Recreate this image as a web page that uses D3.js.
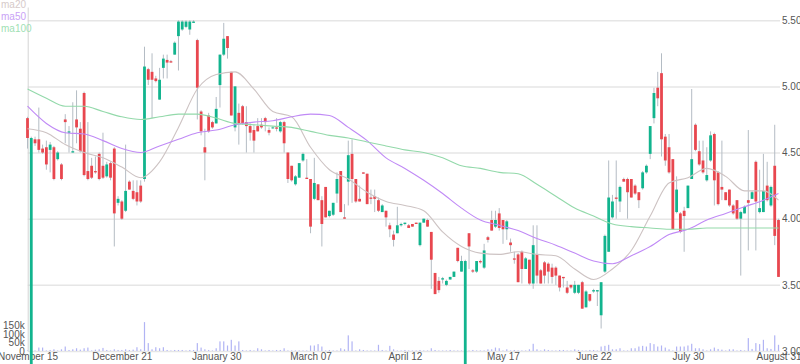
<!DOCTYPE html>
<html>
<head>
<meta charset="utf-8">
<script src="https://cdn.jsdelivr.net/npm/d3@7"></script>
<style>
  body { margin: 0; background: #fff; }
  svg { display: block; font-family: "Liberation Sans", Arial, sans-serif; }
</style>
</head>
<body>
<svg id="chart" width="800" height="364"></svg>
<script>
// daily OHLC, one entry per trading day
const open = [
  4.76, 2.60, 4.60, 4.60, 4.53, 4.54, 4.52, 4.54, 4.45, 4.41,
  4.75, 4.65, 4.50, 4.75, 4.68, 4.95, 4.36, 4.40, 4.36, 4.49,
  4.40, 4.32, 4.42, 4.53, 4.12, 4.13, 4.06, 4.28, 4.21, 4.20,
  4.25, 4.30, 5.13, 5.11, 5.06, 4.90, 5.14, 5.20, 5.19, 5.24,
  5.38, 5.43, 5.45, 5.43, 5.48, 5.35, 4.81, 4.54, 4.78, 4.73,
  4.72, 5.01, 5.24, 5.38, 5.11, 4.69, 4.80, 4.85, 4.73, 4.70,
  4.67, 4.70, 4.71, 4.76, 4.67, 4.69, 4.69, 4.66, 4.73, 4.50,
  4.40, 4.26, 4.31, 4.44, 4.31, 4.30, 4.15, 4.26, 4.14, 4.24,
  4.02, 4.03, 4.19, 4.36, 4.01, 4.28, 4.49, 4.30, 4.15, 4.35,
  4.34, 4.16, 4.17, 4.14, 4.05, 4.06, 3.95, 3.88, 3.89, 3.95,
  3.96, 3.95, 3.96, 3.97, 3.80, 3.97, 3.99, 3.90, 3.59, 3.53,
  3.54, 3.50, 3.54, 3.56, 3.78, 3.60, 2.60, 3.89, 3.61, 3.60,
  3.68, 3.63, 3.86, 3.99, 3.94, 4.04, 3.99, 3.92, 3.82, 3.70,
  3.73, 3.75, 3.62, 3.69, 3.51, 3.73, 3.61, 3.67, 3.66, 3.63,
  3.63, 3.57, 3.56, 3.48, 3.50, 3.44, 3.44, 3.52, 3.33, 3.43,
  3.45, 3.45, 3.27, 3.60, 3.75, 4.01, 4.16, 4.13, 4.30, 4.30,
  4.30, 4.25, 4.20, 4.23, 4.35, 4.49, 4.76, 4.99, 5.10, 4.62,
  4.54, 4.45, 4.05, 4.04, 4.06, 4.08, 4.30, 4.71, 4.51, 4.44,
  4.29, 4.44, 4.64, 4.35, 4.24, 4.20, 4.22, 4.10, 4.14, 4.00,
  4.04, 4.14, 4.15, 4.43, 4.05, 4.05, 4.25, 4.10, 4.40, 3.99
];
const high = [
  4.77, 4.62, 4.62, 4.84, 4.56, 4.59, 4.58, 4.55, 4.51, 4.42,
  4.79, 4.70, 4.88, 4.97, 4.73, 4.96, 4.73, 4.46, 4.47, 4.50,
  4.65, 4.43, 4.43, 4.54, 4.17, 4.14, 4.56, 4.29, 4.29, 4.29,
  4.29, 5.30, 5.14, 5.25, 5.08, 5.14, 5.24, 5.24, 5.20, 5.34,
  5.50, 5.50, 5.50, 5.50, 5.50, 5.36, 4.82, 4.68, 4.80, 4.74,
  4.92, 5.24, 5.48, 5.38, 5.11, 5.00, 4.87, 4.86, 4.85, 4.72,
  4.71, 4.76, 4.76, 4.77, 4.69, 4.70, 4.76, 4.74, 4.74, 4.50,
  4.40, 4.33, 4.42, 4.50, 4.45, 4.30, 4.46, 4.26, 4.17, 4.24,
  4.06, 4.12, 4.35, 4.36, 4.11, 4.59, 4.60, 4.30, 4.25, 4.35,
  4.34, 4.22, 4.22, 4.16, 4.11, 4.06, 3.97, 3.91, 4.09, 3.97,
  3.97, 3.96, 3.96, 3.97, 3.97, 4.00, 4.00, 3.90, 3.59, 3.56,
  3.56, 3.54, 3.56, 3.60, 3.78, 3.72, 3.69, 3.89, 3.62, 3.68,
  3.69, 3.81, 3.87, 4.06, 4.06, 4.08, 3.99, 3.99, 3.85, 3.75,
  3.74, 3.76, 3.71, 3.69, 3.95, 3.95, 3.62, 3.68, 3.67, 3.66,
  3.64, 3.57, 3.56, 3.53, 3.50, 3.53, 3.50, 3.53, 3.46, 3.43,
  3.47, 3.46, 3.52, 3.88, 4.44, 4.18, 4.44, 4.25, 4.31, 4.31,
  4.30, 4.26, 4.20, 4.36, 4.41, 4.70, 4.99, 5.11, 5.25, 4.64,
  4.64, 4.45, 4.32, 4.05, 4.09, 4.25, 4.98, 4.72, 4.59, 4.59,
  4.54, 4.66, 4.65, 4.36, 4.59, 4.20, 4.22, 4.11, 4.14, 4.06,
  4.10, 4.67, 4.21, 4.44, 4.37, 4.49, 4.43, 4.25, 4.71, 4.00
];
const low = [
  4.53, 2.60, 4.55, 4.50, 4.49, 4.37, 4.35, 4.29, 4.44, 4.29,
  4.57, 4.50, 4.50, 4.57, 4.50, 4.32, 4.29, 4.30, 4.34, 4.29,
  4.30, 4.31, 4.29, 3.79, 4.10, 3.99, 4.05, 4.22, 4.14, 4.10,
  4.12, 4.28, 5.01, 4.76, 5.03, 4.90, 5.06, 5.06, 5.18, 5.24,
  5.12, 5.42, 5.44, 5.39, 5.48, 4.75, 4.63, 4.29, 4.65, 4.68,
  4.72, 4.84, 5.23, 5.21, 4.78, 4.66, 4.56, 4.71, 4.50, 4.59,
  4.50, 4.66, 4.68, 4.66, 4.63, 4.68, 4.66, 4.65, 4.50, 4.27,
  4.28, 4.25, 4.31, 4.43, 4.30, 3.89, 4.14, 4.14, 3.79, 4.01,
  4.01, 4.02, 4.12, 4.05, 4.00, 4.10, 4.12, 4.12, 4.13, 4.34,
  4.11, 4.11, 4.05, 4.05, 4.05, 3.94, 3.86, 3.79, 3.89, 3.94,
  3.95, 3.93, 3.94, 3.96, 3.79, 3.97, 3.94, 3.47, 3.43, 3.44,
  3.51, 3.49, 3.54, 3.56, 3.67, 3.60, 2.60, 3.62, 3.59, 3.59,
  3.66, 3.62, 3.82, 3.91, 3.93, 3.91, 3.81, 3.84, 3.75, 3.66,
  3.52, 3.51, 3.62, 3.50, 3.47, 3.51, 3.51, 3.51, 3.51, 3.51,
  3.50, 3.45, 3.48, 3.43, 3.47, 3.43, 3.43, 3.32, 3.33, 3.37,
  3.44, 3.34, 3.17, 3.59, 3.75, 4.00, 4.00, 4.05, 4.28, 4.00,
  4.16, 4.18, 4.08, 4.22, 4.34, 4.45, 4.72, 4.85, 4.47, 4.40,
  4.34, 3.92, 4.04, 3.89, 3.75, 4.08, 4.30, 4.51, 4.40, 4.34,
  4.28, 4.43, 4.10, 4.10, 4.14, 4.14, 4.09, 4.03, 3.99, 3.57,
  4.04, 3.76, 4.15, 3.76, 4.04, 4.05, 4.13, 4.09, 3.80, 3.56
];
const close = [
  4.61, 4.61, 4.57, 4.52, 4.50, 4.41, 4.56, 4.30, 4.50, 4.30,
  4.73, 4.66, 4.51, 4.69, 4.51, 4.33, 4.30, 4.31, 4.35, 4.30,
  4.31, 4.41, 4.31, 4.04, 4.15, 4.00, 4.21, 4.22, 4.15, 4.13,
  4.13, 5.15, 5.05, 5.05, 5.04, 5.05, 5.21, 5.18, 5.18, 5.33,
  5.49, 5.49, 5.49, 5.49, 5.49, 4.99, 4.66, 4.50, 4.66, 4.69,
  4.83, 5.24, 5.36, 5.29, 4.78, 5.00, 4.72, 4.72, 4.70, 4.65,
  4.59, 4.66, 4.69, 4.73, 4.65, 4.69, 4.68, 4.73, 4.57, 4.30,
  4.29, 4.32, 4.42, 4.49, 4.30, 3.94, 4.27, 4.14, 3.96, 4.01,
  4.06, 4.12, 4.30, 4.05, 4.00, 4.48, 4.30, 4.13, 4.13, 4.34,
  4.11, 4.15, 4.15, 4.06, 4.10, 4.01, 3.92, 3.84, 3.95, 3.96,
  3.97, 3.93, 3.94, 3.96, 3.97, 4.00, 3.94, 3.69, 3.43, 3.46,
  3.55, 3.53, 3.56, 3.60, 3.68, 3.68, 3.68, 3.79, 3.60, 3.68,
  3.67, 3.76, 3.84, 3.91, 3.99, 3.93, 3.92, 3.98, 3.80, 3.69,
  3.52, 3.62, 3.70, 3.51, 3.80, 3.57, 3.51, 3.57, 3.60, 3.56,
  3.57, 3.48, 3.55, 3.44, 3.48, 3.50, 3.50, 3.32, 3.45, 3.38,
  3.46, 3.46, 3.52, 3.87, 4.16, 4.13, 4.15, 4.24, 4.28, 4.20,
  4.16, 4.19, 4.14, 4.35, 4.40, 4.70, 4.95, 4.91, 4.60, 4.44,
  4.35, 3.92, 4.22, 3.90, 4.02, 4.25, 4.45, 4.52, 4.41, 4.35,
  4.33, 4.63, 4.29, 4.11, 4.22, 4.14, 4.10, 4.04, 4.00, 4.05,
  4.09, 4.12, 4.20, 4.13, 4.08, 4.21, 4.14, 4.24, 3.87, 3.56
];
// volume in thousands
const volume = [
  3, 3, 3, 20, 20, 3, 6, 10, 3, 10,
  26, 6, 10, 16, 8, 16, 20, 3, 8, 10,
  18, 6, 3, 10, 6, 6, 10, 6, 8, 22,
  10, 168, 46, 10, 22, 16, 22, 6, 3, 6,
  6, 6, 3, 6, 6, 46, 20, 10, 6, 3,
  16, 56, 56, 32, 65, 32, 56, 6, 3, 6,
  3, 16, 10, 3, 6, 3, 6, 6, 16, 3,
  3, 3, 3, 3, 3, 32, 32, 40, 26, 3,
  6, 3, 3, 16, 10, 91, 56, 3, 10, 6,
  3, 3, 3, 36, 6, 3, 30, 10, 3, 3,
  6, 3, 3, 3, 6, 3, 3, 16, 6, 3,
  3, 3, 6, 3, 3, 3, 6, 3, 6, 3,
  3, 3, 10, 10, 20, 16, 3, 10, 3, 6,
  3, 3, 3, 10, 42, 10, 3, 10, 6, 3,
  3, 6, 6, 3, 3, 10, 6, 3, 3, 6,
  6, 3, 26, 30, 36, 10, 10, 16, 3, 3,
  16, 16, 26, 30, 26, 46, 40, 26, 32, 20,
  10, 3, 26, 26, 26, 32, 42, 16, 16, 10,
  3, 10, 20, 12, 8, 3, 10, 10, 3, 6,
  3, 75, 12, 46, 40, 65, 16, 12, 91, 36
];

// moving averages, read at every 5th day
const maIdx = [0, 5, 10, 15, 20, 25, 30, 35, 40, 45, 50, 55, 60, 65, 70, 75, 80, 85, 90, 95,
  100, 105, 110, 115, 120, 125, 130, 135, 140, 145, 150, 155, 160, 165, 170, 175, 180, 185, 190, 195, 199];
const ma20 = [4.68, 4.65, 4.56, 4.50, 4.46, 4.39, 4.31, 4.43, 4.69, 4.98, 5.09, 5.11, 4.98, 4.81, 4.77, 4.54, 4.37, 4.30, 4.20, 4.13,
  4.10, 4.06, 3.90, 3.79, 3.74, 3.73, 3.75, 3.73, 3.72, 3.62, 3.54, 3.62, 3.76, 4.02, 4.27, 4.31, 4.38, 4.32, 4.21, 4.21, 4.14];
const ma50 = [4.85, 4.72, 4.65, 4.64, 4.59, 4.53, 4.50, 4.55, 4.60, 4.65, 4.67, 4.71, 4.73, 4.74, 4.77, 4.79, 4.78, 4.69, 4.59, 4.46,
  4.38, 4.29, 4.19, 4.08, 3.99, 3.95, 3.91, 3.85, 3.80, 3.74, 3.68, 3.66, 3.72, 3.79, 3.88, 3.92, 3.99, 4.04, 4.09, 4.14, 4.19];
const ma100 = [4.98, 4.91, 4.85, 4.85, 4.81, 4.77, 4.75, 4.77, 4.79, 4.79, 4.76, 4.72, 4.71, 4.70, 4.69, 4.66, 4.63, 4.61, 4.58, 4.55,
  4.52, 4.50, 4.46, 4.40, 4.38, 4.35, 4.34, 4.26, 4.17, 4.08, 4.02, 3.96, 3.94, 3.93, 3.92, 3.92, 3.93, 3.93, 3.93, 3.93, 3.93];

const tickIdx = [0, 25, 50, 75, 100, 126, 150, 175, 199];
const tickLabels = ["November 15", "December 21", "January 30", "March 07", "April 12", "May 17", "June 22", "July 30", "August 31"];
const priceTicks = [3.0, 3.5, 4.0, 4.5, 5.0, 5.5];
const volumeTicks = [0, 50, 100, 150];

const maSeries = [
  { name: "ma20", values: ma20, line: "#cdc3c3", label: "#d6caca" },
  { name: "ma50", values: ma50, line: "#c08af6", label: "#c9a2f6" },
  { name: "ma100", values: ma100, line: "#93d9aa", label: "#a0dfb4" }
];

const UP = "#12b48e", DOWN = "#e8474f", WICK = "#b4bcc4";

const plotLeft = 27.7, plotRight = 780, plotTop = 7, plotBottom = 351;

const svg = d3.select("#chart");

const x = d3.scalePoint().domain(d3.range(open.length)).range([27.5, 778.5]);
const y = d3.scaleLinear().domain([3.0, 5.6]).range([plotBottom, plotTop]);
const yVol = d3.scaleLinear().domain([0, 2000]).range([plotBottom, plotTop]);

// price axis on the right, ticks stretched into gridlines
const gy = svg.append("g")
  .attr("transform", `translate(${plotRight},0)`)
  .call(d3.axisRight(y).tickValues(priceTicks).tickFormat(d3.format(".2f"))
    .tickSize(-(plotRight - plotLeft)).tickPadding(2));
gy.select(".domain").remove();
gy.selectAll(".tick line").attr("stroke", "#e6e6e6").attr("stroke-width", 1.5);
gy.selectAll(".tick text").attr("fill", "#555").style("font-size", "10px");

// volume axis on the left
const gv = svg.append("g")
  .attr("transform", `translate(${plotLeft},0)`)
  .call(d3.axisLeft(yVol).tickValues(volumeTicks).tickFormat(d => d === 0 ? "0" : d + "k")
    .tickSize(0).tickSizeOuter(0).tickPadding(3));
gv.select(".domain").attr("stroke", "#d4d4d4");
gv.selectAll(".tick text").attr("fill", "#555").style("font-size", "10px");

// date axis
const gx = svg.append("g")
  .attr("transform", `translate(0,${plotBottom})`)
  .call(d3.axisBottom(x).tickValues(tickIdx).tickFormat((d, i) => tickLabels[i])
    .tickSize(0).tickPadding(2));
gx.select(".domain").remove();
gx.selectAll(".tick text").attr("fill", "#555").style("font-size", "10px");

// volume bars
svg.append("g").selectAll("rect")
  .data(volume)
  .join("rect")
  .attr("x", (d, i) => x(i) - 0.6)
  .attr("width", 1.2)
  .attr("y", d => yVol(d))
  .attr("height", d => plotBottom - yVol(d))
  .attr("fill", "#b1b4f4");

// candles
const candles = svg.append("g").selectAll("g")
  .data(d3.range(open.length))
  .join("g");

candles.append("line")
  .attr("x1", i => x(i)).attr("x2", i => x(i))
  .attr("y1", i => y(high[i])).attr("y2", i => y(low[i]))
  .attr("stroke", WICK).attr("stroke-width", 1);

candles.append("rect")
  .attr("x", i => x(i) - 1.4)
  .attr("width", 2.8)
  .attr("y", i => y(Math.max(open[i], close[i])))
  .attr("height", i => Math.max(1, Math.abs(y(open[i]) - y(close[i]))))
  .attr("fill", i => close[i] >= open[i] ? UP : DOWN);

// moving average lines
maSeries.forEach(s => {
  svg.append("path")
    .datum(s.values)
    .attr("fill", "none")
    .attr("stroke", s.line)
    .attr("stroke-width", 1.1)
    .attr("d", d3.line().curve(d3.curveMonotoneX)
      .x((d, i) => x(maIdx[i]))
      .y(d => y(d)));
});

// legend
svg.append("g").selectAll("text")
  .data(maSeries)
  .join("text")
  .attr("x", 1)
  .attr("y", (d, i) => 8 + i * 12)
  .attr("fill", d => d.label)
  .style("font-size", "10px")
  .text(d => d.name);
</script>
</body>
</html>
